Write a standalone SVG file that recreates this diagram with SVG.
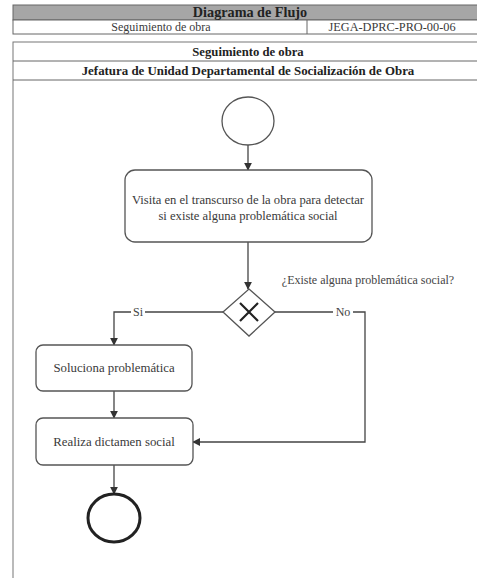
<svg xmlns="http://www.w3.org/2000/svg" width="477" height="578" viewBox="0 0 477 578">
<style>
.hdr{fill:#fff;stroke:#666;stroke-width:1}
.t{font-family:"Liberation Serif","Times New Roman",serif;fill:#3a3a3a;text-anchor:middle}
.b{font-weight:bold;fill:#222}
.node{fill:#fff;stroke:#555;stroke-width:1.3}
.conn{fill:none;stroke:#444;stroke-width:1.3}
.lbl{font-family:"Liberation Serif","Times New Roman",serif;fill:#444;font-size:12px;text-anchor:middle}
</style>
<defs>
<marker id="arr" viewBox="0 0 10 10" refX="9" refY="5" markerWidth="8" markerHeight="8" markerUnits="userSpaceOnUse" orient="auto">
<path d="M0,0 L10,5 L0,10 Z" fill="#333"/>
</marker>
</defs>
<rect width="477" height="578" fill="#fff"/>
<g id="header">
<rect x="13" y="5" width="470" height="15" fill="#a6a6a6" stroke="#666" stroke-width="1"/>
<rect x="13" y="20" width="470" height="14" class="hdr"/>
<line x1="307" y1="20" x2="307" y2="34" stroke="#666"/>
<text x="250" y="17" class="t b" font-size="14.2">Diagrama de Flujo</text>
<text x="161" y="31" class="t" font-size="12">Seguimiento de obra</text>
<text x="392" y="31" class="t" font-size="12.3">JEGA-DPRC-PRO-00-06</text>
</g>
<g id="pool">
<rect x="13" y="42" width="470" height="540" fill="none" stroke="#777" stroke-width="1"/>
<line x1="13" y1="61" x2="477" y2="61" stroke="#666"/>
<line x1="13" y1="80" x2="477" y2="80" stroke="#666"/>
<text x="248" y="56" class="t b" font-size="12.7">Seguimiento de obra</text>
<text x="248" y="75" class="t b" font-size="12.9">Jefatura de Unidad Departamental de Socialización de Obra</text>
</g>
<g id="connectors">
<line x1="248" y1="145" x2="248" y2="170" class="conn" marker-end="url(#arr)"/>
<line x1="248" y1="242" x2="248" y2="289" class="conn" marker-end="url(#arr)"/>
<polyline points="223,312 114,312 114,345" class="conn" marker-end="url(#arr)"/>
<polyline points="275,312 365,312 365,442 193,442" class="conn" marker-end="url(#arr)"/>
<line x1="114" y1="391" x2="114" y2="418" class="conn" marker-end="url(#arr)"/>
<line x1="114" y1="465" x2="114" y2="494" class="conn" marker-end="url(#arr)"/>
<rect x="131" y="305" width="14" height="13" fill="#fff"/>
<text x="138" y="316" class="lbl">Si</text>
<rect x="333" y="305" width="20" height="13" fill="#fff"/>
<text x="343" y="316" class="lbl">No</text>
</g>
<g id="start">
<ellipse cx="248" cy="121" rx="26" ry="24" class="node"/>
</g>
<g id="visita">
<rect x="125" y="170" width="247" height="72" rx="10" class="node"/>
<text x="248" y="204" class="t" font-size="12.6">Visita en el transcurso de la obra para detectar</text>
<text x="248" y="220" class="t" font-size="12.6">si existe alguna problemática social</text>
</g>
<g id="gateway">
<polygon points="249,289 275,312 249,336 223,312" class="node"/>
<path d="M240,303 L258,321 M258,303 L240,321" stroke="#222" stroke-width="2.2" fill="none"/>
<text x="368" y="284" class="lbl" font-size="12.6">¿Existe alguna problemática social?</text>
</g>
<g id="soluciona">
<rect x="36" y="345" width="156" height="46" rx="7" class="node"/>
<text x="114" y="372" class="t" font-size="12.8">Soluciona problemática</text>
</g>
<g id="realiza">
<rect x="36" y="418" width="157" height="47" rx="7" class="node"/>
<text x="114" y="446" class="t" font-size="12.8">Realiza dictamen social</text>
</g>
<g id="end">
<ellipse cx="114" cy="518" rx="26" ry="24" fill="#fff" stroke="#222" stroke-width="3"/>
</g>
</svg>
